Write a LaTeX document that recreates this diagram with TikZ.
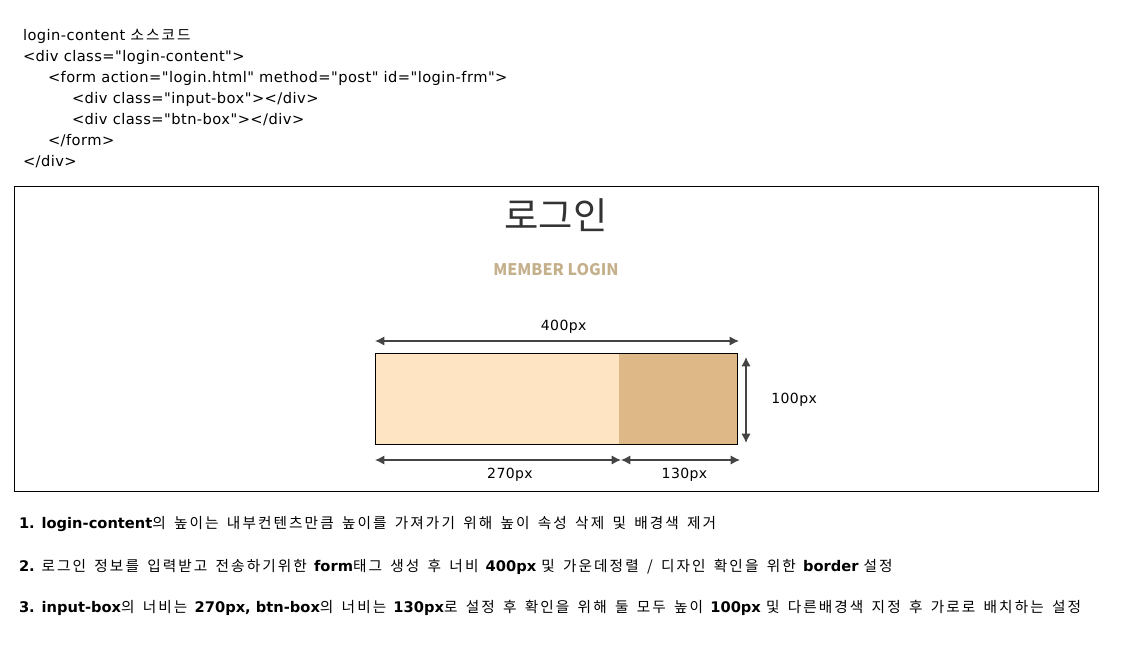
\documentclass[tikz,border=0pt]{standalone}
\usepackage{fontspec}
\setmainfont{DejaVu Sans}[Ligatures=TeXOff,LetterSpace=3,BoldFeatures={LetterSpace=0}]
\newfontfamily\kr{Noto Sans CJK KR}[LetterSpace=14,WordSpace=1.55]
\newfontfamily\krtitle{Noto Sans CJK KR}
\usetikzlibrary{positioning,arrows.meta}
\definecolor{bisque}{HTML}{FFE4C4}
\definecolor{burlywood}{HTML}{DEB887}
\definecolor{titlegray}{HTML}{333333}
\definecolor{membergold}{HTML}{C5B08C}
\definecolor{arrowgray}{HTML}{444444}
\newcommand{\medida}[4]{% seta de medida com rotulo
\draw [line width=1.1pt,arrowgray,{Latex[length=7pt,width=7pt]}-{Latex[length=7pt,width=7pt]}] (#1) -- (#2) node[pos=.5,#3,text=black,font=\fontsize{10.5}{12}\selectfont]{#4};
}

\begin{document}
\begin{tikzpicture}[x=0.75pt,y=-0.75pt,every node/.style={inner sep=0pt,outer sep=0pt},
code/.style={anchor=west,font=\fontsize{11}{13}\selectfont},
note/.style={anchor=west,font=\fontsize{11}{13}\selectfont},
fillbox/.style={minimum height=68.25pt,anchor=north west}]
\useasboundingbox (0,0) rectangle (1121,654);
%
% codigo fonte
\node[code] (c0) at (23,36) {login-content {\kr 소스코드}};
\node[code] (c1) at (23,57) {<div class="login-content">};
\node[code] (c2) at (48,78) {<form action="login.html" method="post" id="login-frm">};
\node[code] (c3) at (72,99) {<div class="input-box"></div>};
\node[code] (c4) at (72,120) {<div class="btn-box"></div>};
\node[code] (c5) at (48,141) {</form>};
\node[code] (c6) at (23,162) {</div>};
%
% login-content
\draw (14,186) rectangle (1098,491);
\node[font=\krtitle\fontsize{28}{30}\selectfont,text=titlegray] (title) at (556,215) {로그인};
\node[font=\krtitle\bfseries\fontsize{12}{14}\selectfont,text=membergold] (member) at (556,270) {MEMBER LOGIN};
%
% form
\node[fillbox,fill=bisque,minimum width=183pt] (input) at (375,353) {};
\node[fillbox,fill=burlywood,minimum width=88.5pt,right=0pt of input] (btn) {};
\draw (input.north west) rectangle (btn.south east);
%
\coordinate (w1) at (375,341);
\coordinate (w2) at (739,341);
\coordinate (h1) at (746,357);
\coordinate (h2) at (746,443);
\coordinate (b1) at (375,460);
\coordinate (b2) at (621,460);
\coordinate (b3) at (740,460);
\medida{w1}{w2}{above=6pt,xshift=5pt}{400px}
\medida{h1}{h2}{right=19pt}{100px}
\medida{b1}{b2}{below=6pt,xshift=9pt}{270px}
\medida{b2}{b3}{below=6pt,xshift=3pt}{130px}
%
% notas
\node[note] (n1) at (19,524) {\textbf{1. login-content}{\kr 의 높이는 내부컨텐츠만큼 높이를 가져가기 위해 높이 속성 삭제 및 배경색 제거}};
\node[note] (n2) at (19,567) {\textbf{2.} {\kr 로그인 정보를 입력받고 전송하기위한} \textbf{form}{\kr 태그 생성 후 너비} \textbf{400px} {\kr 및 가운데정렬 / 디자인 확인을 위한} \textbf{border} {\kr 설정}};
\node[note] (n3) at (19,608) {\textbf{3. input-box}{\kr 의 너비는} \textbf{270px, btn-box}{\kr 의 너비는} \textbf{130px}{\kr 로 설정 후 확인을 위해 둘 모두 높이} \textbf{100px} {\kr 및 다른배경색 지정 후 가로로 배치하는 설정}};
\end{tikzpicture}
\end{document}
